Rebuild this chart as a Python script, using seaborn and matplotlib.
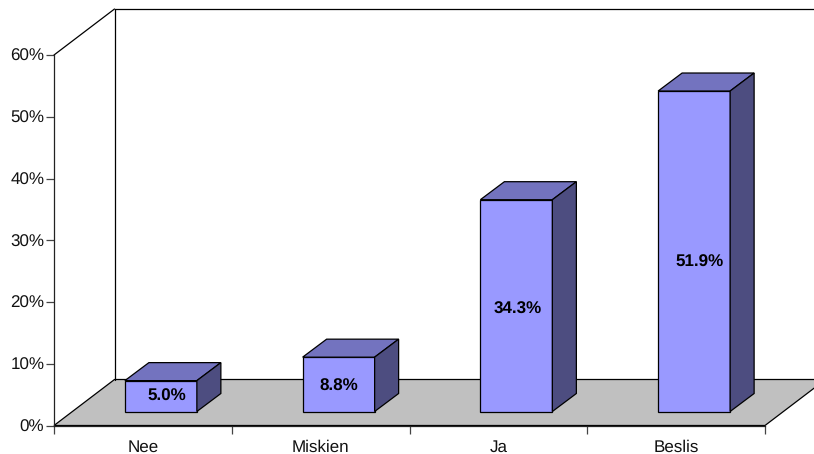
import matplotlib
matplotlib.use("Agg")
import matplotlib.pyplot as plt
import seaborn as sns
from matplotlib.patches import Polygon
from matplotlib.lines import Line2D
from matplotlib.transforms import Affine2D

# data
categories = ["Nee", "Miskien", "Ja", "Beslis"]
values = [5.0, 8.8, 34.3, 51.9]
y_ticks = [0, 10, 20, 30, 40, 50, 60]

# label nudges in pixels, the labels are not quite centered in the original
label_dx = [6, 0, 1, 5]
label_dy = [0, -2, -4, -11]

front_color = "#9999FF"
top_color = "#7373BF"
side_color = "#4D4D80"
floor_color = "#C0C0C0"

sns.set_theme(style="white")
plt.rcParams["font.family"] = ["Liberation Sans", "DejaVu Sans"]
plt.rcParams["text.hinting"] = "none"
plt.rcParams["text.hinting_factor"] = 1

fig = plt.figure(figsize=(8.14, 4.54), dpi=100)
ax = fig.add_axes([54 / 814, 28.5 / 454, 711 / 814, 370.5 / 454])

# bars through seaborn
sns.barplot(x=categories, y=values, ax=ax, color=front_color, saturation=1,
            width=0.405, edgecolor="black", linewidth=0.9, zorder=3)

ax.set_xlim(-0.5, 3.5)
ax.set_ylim(0, 60)
ax.set_ylabel("")
ax.set_xlabel("")


def shift(dx, dy):
    return ax.transData + Affine2D().translate(dx, dy)


# pixels per data unit
px_x = 711 / 4
px_y = 370.5 / 60

# floor and back wall of the 3d box
wall_dx = 60.5
wall_dy = 46
back = shift(wall_dx, wall_dy)
floor = Polygon([(-0.5, 0), (3.5, 0), (3.5 + wall_dx / px_x, wall_dy / px_y), (-0.5 + wall_dx / px_x, wall_dy / px_y)],
                closed=True, facecolor=floor_color, edgecolor="black", linewidth=0.9,
                transform=ax.transData, clip_on=False, zorder=1)
ax.add_patch(floor)
ax.add_line(Line2D([-0.5, -0.5], [0, 60], color="black", lw=0.9, transform=back, clip_on=False, zorder=1))
ax.add_line(Line2D([-0.5, 3.5], [60, 60], color="black", lw=0.9, transform=back, clip_on=False, zorder=1))
ax.add_line(Line2D([-0.5, -0.5 + wall_dx / px_x], [60, 60 + wall_dy / px_y], color="black", lw=0.9,
                   clip_on=False, zorder=1))

# 3d faces on each bar
bar_dx = 24 / px_x
bar_dy = 18 / px_y
offset = shift(18, 14)
for bar, val, ldx, ldy in zip(ax.patches[:4], values, label_dx, label_dy):
    bar.set_transform(offset)
    bar.set_clip_on(False)
    x0 = bar.get_x()
    x1 = x0 + bar.get_width()
    h = bar.get_height()
    ax.add_patch(Polygon([(x0, h), (x1, h), (x1 + bar_dx, h + bar_dy), (x0 + bar_dx, h + bar_dy)],
                         closed=True, facecolor=top_color, edgecolor="black", linewidth=0.9,
                         transform=offset, clip_on=False, zorder=3))
    ax.add_patch(Polygon([(x1, 0), (x1 + bar_dx, bar_dy), (x1 + bar_dx, h + bar_dy), (x1, h)],
                         closed=True, facecolor=side_color, edgecolor="black", linewidth=0.9,
                         transform=offset, clip_on=False, zorder=3))
    ax.annotate(f"{val:.1f}%", xy=((x0 + x1) / 2, h / 2), xycoords=offset,
                xytext=(ldx * 0.72, ldy * 0.72), textcoords="offset points",
                ha="center", va="center", fontsize=12, fontweight="bold", color="black", zorder=5)

# axes
sns.despine(ax=ax, top=True, right=True)
for side in ["left", "bottom"]:
    ax.spines[side].set_color("#222222")
    ax.spines[side].set_linewidth(0.9)
    ax.spines[side].set_zorder(2)

ax.set_yticks(y_ticks)
ax.set_yticklabels([f"{t}%" for t in y_ticks])
ax.set_xticks([-0.5, 0.5, 1.5, 2.5, 3.5])
ax.set_xticklabels([])
ax.set_xticks(range(len(categories)), labels=categories, minor=True)
ax.tick_params(axis="both", which="major", length=6, width=0.9, color="#444444", labelsize=12,
               labelcolor="#111111", left=True, bottom=True, pad=1)
ax.tick_params(axis="x", which="minor", length=0, labelsize=12, labelcolor="#111111", pad=10, bottom=True)
ax.patch.set_alpha(0)

fig.savefig("out.png", dpi=100)
